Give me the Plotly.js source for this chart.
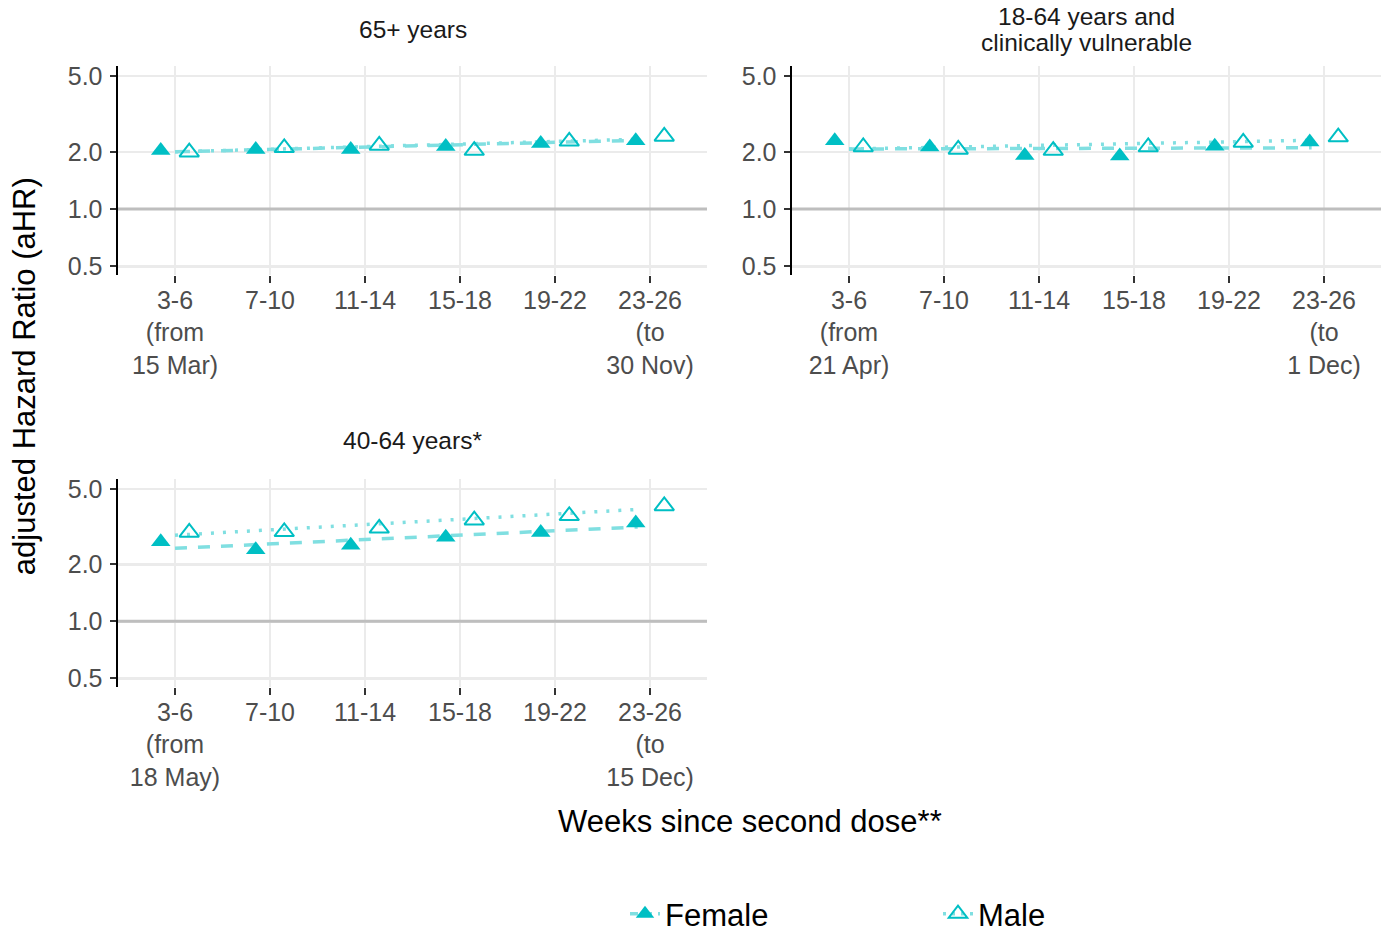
<!DOCTYPE html>
<html>
<head>
<meta charset="utf-8">
<script src="https://cdn.plot.ly/plotly-3.0.1.min.js"></script>
<style>html,body{margin:0;padding:0;background:#fff;}#chart{width:1389px;height:941px;}</style>
</head>
<body>
<div id="chart"></div>
<script>
// ---- data ----
const categories = ['3-6', '7-10', '11-14', '15-18', '19-22', '23-26'];
const panelTitles = [['65+ years'], ['18-64 years and', 'clinically vulnerable'], ['40-64 years*']];
const startDates = ['15 Mar', '21 Apr', '18 May'];
const endDates = ['30 Nov', '1 Dec', '15 Dec'];

const female65 = [2.03, 2.06, 2.06, 2.13, 2.21, 2.29];
const male65   = [1.99, 2.10, 2.16, 2.03, 2.27, 2.41];
const femaleCV = [2.29, 2.12, 1.91, 1.90, 2.14, 2.25];
const maleCV   = [2.12, 2.06, 2.03, 2.12, 2.24, 2.39];
const female40 = [2.63, 2.39, 2.52, 2.78, 2.95, 3.31];
const male40   = [2.95, 2.97, 3.10, 3.42, 3.61, 4.07];

// trend lines (start value, end value)
const femaleTrend65 = [2.00, 2.30];
const maleTrend65   = [2.00, 2.33];
const femaleTrendCV = [2.07, 2.10];
const maleTrendCV   = [2.07, 2.30];
const femaleTrend40 = [2.43, 3.15];
const maleTrend40   = [2.85, 3.90];

const yTickVals = [0.5, 1, 2, 5];
const yTickText = ['0.5', '1.0', '2.0', '5.0'];
const refValue = 1;

// ---- styling ----
const W = 1389, H = 941;
const markerColor = '#00BFC4';
const lineColor = '#80DFE1';
const dodge = 0.15;
const trendX = [0, 4.87];
const fontFamily = '"Liberation Sans", Arial, Helvetica, sans-serif';
const tickFont = {family: fontFamily, size: 25, color: '#4D4D4D'};

const panels = [
  {f: female65, m: male65, ft: femaleTrend65, mt: maleTrend65, xa: 'x', ya: 'y'},
  {f: femaleCV, m: maleCV, ft: femaleTrendCV, mt: maleTrendCV, xa: 'x2', ya: 'y2'},
  {f: female40, m: male40, ft: femaleTrend40, mt: maleTrend40, xa: 'x3', ya: 'y3'}
];

const idx = categories.map((c, i) => i);
const traces = [];
panels.forEach((p) => {
  traces.push({type: 'scatter', mode: 'lines', x: trendX, y: p.ft, xaxis: p.xa, yaxis: p.ya,
    line: {color: lineColor, width: 3.5, dash: '12px,11px'}, showlegend: false, hoverinfo: 'skip'});
  traces.push({type: 'scatter', mode: 'lines', x: trendX, y: p.mt, xaxis: p.xa, yaxis: p.ya,
    line: {color: lineColor, width: 3.5, dash: '3px,9px'}, showlegend: false, hoverinfo: 'skip'});
  traces.push({type: 'scatter', mode: 'markers', x: idx.map(i => i - dodge), y: p.f, xaxis: p.xa, yaxis: p.ya,
    marker: {symbol: 'triangle-up', size: 17, color: markerColor}, showlegend: false, name: 'Female'});
  traces.push({type: 'scatter', mode: 'markers', x: idx.map(i => i + dodge), y: p.m, xaxis: p.xa, yaxis: p.ya,
    marker: {symbol: 'triangle-up-open', size: 17, color: markerColor, line: {width: 2, color: markerColor}},
    showlegend: false, name: 'Male'});
});
// legend entries
traces.push({type: 'scatter', mode: 'lines+markers', x: [null], y: [null], name: 'Female',
  line: {color: lineColor, width: 3.5, dash: '8px,6px'}, marker: {symbol: 'triangle-up', size: 16, color: markerColor}});
traces.push({type: 'scatter', mode: 'lines+markers', x: [null], y: [null], name: 'Male',
  line: {color: lineColor, width: 3.5, dash: '3px,6px'},
  marker: {symbol: 'triangle-up-open', size: 16, color: markerColor, line: {width: 2, color: markerColor}}});

function tickText(k) {
  return categories.map((c, i) => {
    if (i === 0) return c + '<br>(from<br>' + startDates[k] + ')';
    if (i === categories.length - 1) return c + '<br>(to<br>' + endDates[k] + ')';
    return c;
  });
}

const px = (a, b) => [a / W, b / W];
const py = (top, bottom) => [1 - bottom / H, 1 - top / H];

function xAxis(k, dom, anchor) {
  return {domain: dom, anchor: anchor, range: [-0.6, 5.6], tickmode: 'array', tickvals: idx, ticktext: tickText(k),
    showgrid: true, gridcolor: '#EBEBEB', gridwidth: 2.5, zeroline: false, showline: false,
    ticks: 'outside', ticklen: 7, tickwidth: 2, tickcolor: '#333333', ticklabelstandoff: -4,
    tickfont: tickFont, fixedrange: true};
}
function yAxis(dom, anchor) {
  return {domain: dom, anchor: anchor, type: 'log', range: [Math.log10(0.452), Math.log10(5.64)],
    tickmode: 'array', tickvals: yTickVals, ticktext: yTickText,
    showgrid: true, gridcolor: '#EBEBEB', gridwidth: 2.5, zeroline: false,
    showline: true, linecolor: '#000000', linewidth: 2.5,
    ticks: 'outside', ticklen: 6, tickwidth: 2, tickcolor: '#333333', ticklabelstandoff: 2,
    tickfont: tickFont, fixedrange: true};
}

const d1x = px(118, 707), d2x = px(792, 1381);
const dTop = py(66.7, 276.7), dBot = py(482.7, 691.7);

const shapes = panels.map((p) => ({type: 'line', xref: p.xa + ' domain', yref: p.ya, x0: 0, x1: 1, y0: refValue, y1: refValue,
  line: {color: '#BEBEBE', width: 3}, layer: 'above'}));

const stripFont = {family: fontFamily, size: 24.5, color: '#1A1A1A'};
const annotations = [];
const stripCenters = [[(118 + 707) / 2, [30]], [(792 + 1381) / 2, [17, 43]], [(118 + 707) / 2, [444]]];
panelTitles.forEach((lines, k) => {
  lines.forEach((t, j) => {
    annotations.push({text: t, xref: 'paper', yref: 'paper', x: stripCenters[k][0] / W, y: 1 - stripCenters[k][1][j] / H,
      showarrow: false, font: stripFont, xanchor: 'center', yanchor: 'middle'});
  });
});
annotations.push({text: 'adjusted Hazard Ratio (aHR)', xref: 'paper', yref: 'paper', x: 24 / W, y: 1 - 379 / H, textangle: -90, showarrow: false,
  font: {family: fontFamily, size: 31, color: '#000000'}, xanchor: 'center', yanchor: 'middle'});
annotations.push({text: 'Weeks since second dose**', xref: 'paper', yref: 'paper', x: 749.5 / W, y: 1 - 828 / H, showarrow: false,
  font: {family: fontFamily, size: 31, color: '#000000'}, xanchor: 'center', yanchor: 'middle'});

const layout = {
  width: W, height: H, margin: {l: 0, r: 0, t: 0, b: 0},
  paper_bgcolor: '#FFFFFF', plot_bgcolor: '#FFFFFF',
  font: {family: fontFamily},
  xaxis: xAxis(0, d1x, 'y'), yaxis: yAxis(dTop, 'x'),
  xaxis2: xAxis(1, d2x, 'y2'), yaxis2: yAxis(dTop, 'x2'),
  xaxis3: xAxis(2, d1x, 'y3'), yaxis3: yAxis(dBot, 'x3'),
  shapes: shapes, annotations: annotations,
  showlegend: true,
  legend: {orientation: 'h', x: 625 / W, xanchor: 'left', y: 1 - 921 / H, yanchor: 'middle',
    font: {family: fontFamily, size: 31, color: '#000000'}, entrywidth: 268, entrywidthmode: 'pixels',
    bgcolor: 'rgba(0,0,0,0)'}
};

Plotly.newPlot('chart', traces, layout, {displayModeBar: false, staticPlot: true});
</script>
</body>
</html>
